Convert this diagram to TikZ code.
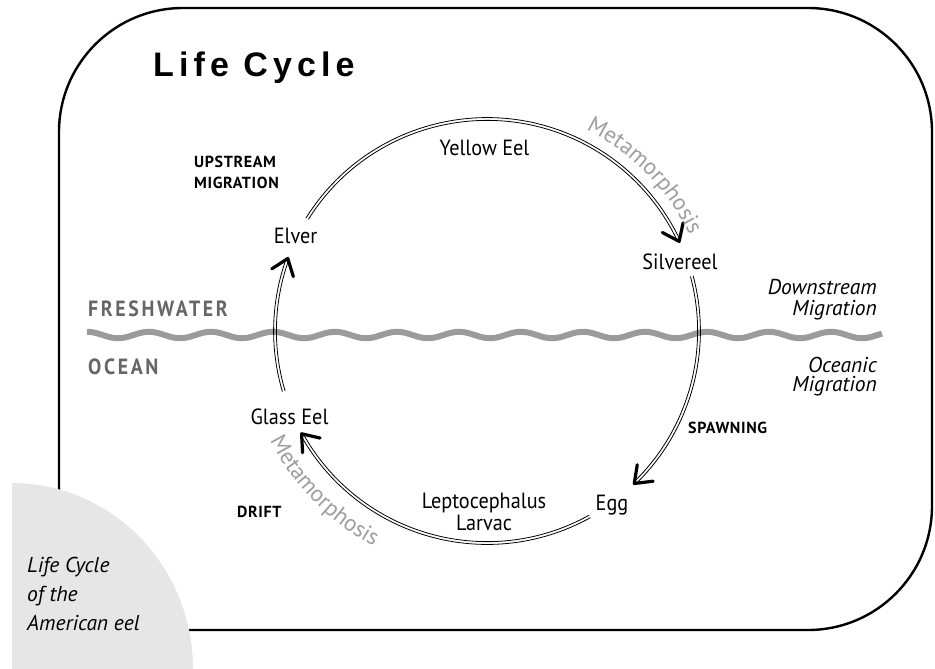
\documentclass[tikz,border=0pt]{standalone}
\usepackage{fontspec}
\setmainfont{PT Sans}
\newfontfamily\labfont{PT Sans}[FakeStretch=0.92]
\newfontfamily\metafont{PT Sans}
\newfontfamily\procfont{PT Sans}[LetterSpace=4]
\newfontfamily\capfont{PT Sans}[LetterSpace=12,FakeStretch=0.9]
\newfontfamily\titlefont{Liberation Sans}[LetterSpace=15]
\usetikzlibrary{decorations.text}
\definecolor{waveg}{HTML}{9B9B9B}
\definecolor{darkg}{HTML}{666666}
\definecolor{metag}{HTML}{9E9E9E}
\definecolor{paneg}{HTML}{E6E6E6}
\newcommand\cyclearc[2]{%
  \draw[arcline] (C) ++(#1:210.6) arc[start angle=#1, end angle=#2, radius=210.6];
  \draw[arcline] (C) ++(#1:213.4) arc[start angle=#1, end angle=#2, radius=213.4];}
\newcommand\chev[3]{%
  \draw[chevron] ([shift={(#2:19)}]#1) -- (#1) -- ([shift={(#3:19)}]#1);}
\begin{document}
\begin{tikzpicture}[x=1pt,y=1pt,
  frame/.style={line width=2.4pt},
  arcline/.style={line width=0.8pt},
  chevron/.style={line width=3.2pt, line cap=round, line join=round},
  wave/.style={line width=6pt, color=waveg},
  lab/.style={font=\labfont\fontsize{22}{24}\selectfont, inner sep=0},
  boldcap/.style={font=\procfont\bfseries\fontsize{16}{18}\selectfont, inner sep=0},
  zone/.style={font=\capfont\bfseries\fontsize{22}{24}\selectfont, text=darkg, inner sep=0, anchor=base west},
  itl/.style={font=\metafont\itshape\fontsize{21.5}{24}\selectfont, inner sep=0},
  meta/.style={decorate, decoration={text along path, text align=center,
     text={|\metafont\fontsize{23}{25}\selectfont\color{metag}|Metamorphosis}}}
]
\useasboundingbox (0,0) rectangle (935,-669);
% frame
\draw[frame, rounded corners=124pt] (59,-8) rectangle (932,-630);
% grey corner pane
\fill[paneg] (12,-669) -- (12,-483) arc[start angle=90, end angle=0, x radius=181, y radius=186] -- cycle;
% title
\node[anchor=base west, inner sep=0, font=\titlefont\bfseries\fontsize{34}{36}\selectfont] (title) at (153,-77) {Life Cycle};
% wave
\draw[wave] plot[domain=87:882, samples=320] (\x, {-335+3.2*cos(5.8065*(\x-273))});
\node[zone] (fresh) at (88,-316) {FRESHWATER};
\node[zone] (ocean) at (88,-374) {OCEAN};
% cycle
\coordinate (C) at (487,-331);
\cyclearc{148}{25}
\cyclearc{15}{-46}
\cyclearc{-61}{-151}
\cyclearc{196.5}{160}
\path (C) ++(25:212) coordinate (t1);
\path (C) ++(-46:212) coordinate (t2);
\path (C) ++(-151:212) coordinate (t3);
\path (C) ++(160:212) coordinate (t4);
\chev{t1}{152}{78}
\chev{t2}{81}{7}
\chev{t3}{-13}{-87}
\chev{t4}{287}{213}
% metamorphosis labels
\path[meta] (C) ++(68:224) arc[start angle=68, end angle=21, radius=224];
\path[meta] (C) ++(202:243) arc[start angle=202, end angle=247, radius=243];
% stage labels
\node[lab, anchor=base] (yellow) at (484.5,-155) {Yellow Eel};
\node[lab, anchor=base] (elver) at (295.5,-243) {Elver};
\node[lab, anchor=base] (silver) at (680,-269) {Silvereel};
\node[lab, anchor=base] (glass) at (289.5,-424) {Glass Eel};
\node[lab, anchor=base] (egg) at (612,-510) {Egg};
\node[lab, anchor=base] (lepto) at (484,-508) {Leptocephalus};
\node[lab, anchor=base] (larv) at (484,-530) {Larvac};
% process labels
\node[boldcap, anchor=base west] (up1) at (194,-167) {UPSTREAM};
\node[boldcap, anchor=base west] (up2) at (194,-188) {MIGRATION};
\node[boldcap, anchor=base west] (spawn) at (688,-433) {SPAWNING};
\node[boldcap, anchor=base west] (drift) at (237,-517) {DRIFT};
\node[itl, anchor=base east] (down1) at (877,-294) {Downstream};
\node[itl, anchor=base east] (down2) at (877,-315) {Migration};
\node[itl, anchor=base east] (oce1) at (877,-372) {Oceanic};
\node[itl, anchor=base east] (oce2) at (877,-391) {Migration};
% corner caption
\node[itl, anchor=base west] (cap1) at (27,-572) {Life Cycle};
\node[itl, anchor=base west] (cap2) at (27,-601) {of the};
\node[itl, anchor=base west] (cap3) at (27,-630) {American eel};
\end{tikzpicture}
\end{document}
